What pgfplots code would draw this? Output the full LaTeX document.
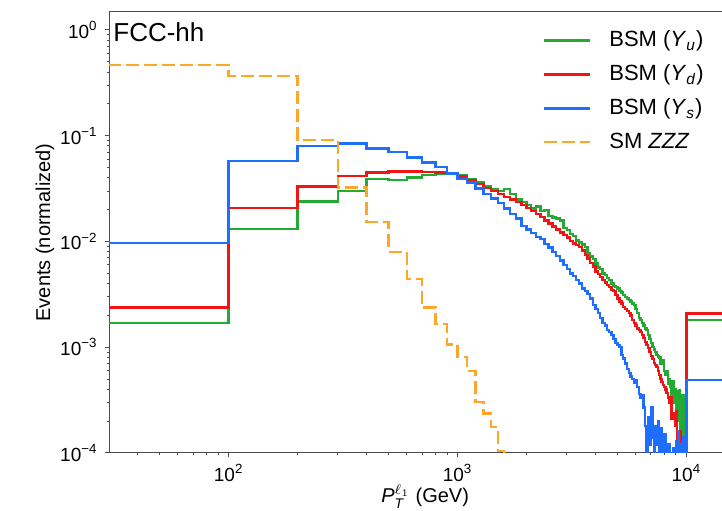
\documentclass[border=0pt]{standalone}
\usepackage{amsmath}
\usepackage{fontspec}
\setmainfont{Liberation Sans}
\usepackage{pgfplots}
\usepackage{pgfplotstable}
\pgfplotsset{compat=1.18}

\definecolor{yuGreen}{RGB}{35,170,50}
\definecolor{ydRed}{RGB}{240,20,20}
\definecolor{ysBlue}{RGB}{30,110,255}
\definecolor{smOrange}{RGB}{255,165,40}

% normalized histograms, 100 GeV bins (left edges), last row = overflow
\pgfplotstableread{
x      yu       yd       ys        sm
10     0.0017   0.00238  0.0097    0.467
100    0.0131   0.0208   0.0577    0.367
200    0.0238   0.033    0.080     0.091
300    0.0302   0.0416   0.0846    0.0325
400    0.0389   0.045    0.076     0.0152
500    0.038    0.046    0.0706    0.0080
600    0.0404   0.046    0.0624    0.00441
700    0.0425   0.0455   0.056     0.00238
800    0.0434   0.045    0.0509    0.00166
900    0.044    0.0434   0.044     0.00106
1000   0.042    0.041    0.039     0.00081
1100   0.039    0.038    0.036     0.000598
1200   0.036    0.035    0.0317    0.000304
1300   0.0335   0.032    0.028     0.000236
1400   0.031    0.030    0.0255    0.000177
1500   0.030    0.028    0.023     0.000105
1600   0.0315   0.0265   0.0205    1e-7
1700   0.028    0.025    0.0182    1e-7
1800   0.025    0.0235   0.0165    1e-7
1900   0.0235   0.022    0.014     1e-7
2000   0.022    0.0208   0.0130    1e-7
2100   0.0205   0.0195   0.0120    1e-7
2200   0.0215   0.0182   0.0110    1e-7
2300   0.0195   0.017    0.0105    1e-7
2400   0.0198   0.0158   0.0095    1e-7
2500   0.0175   0.0148   0.0088    1e-7
2600   0.0168   0.0139   0.0080    1e-7
2700   0.0165   0.013    0.0073    1e-7
2800   0.0158   0.0122   0.0066    1e-7
2900   0.0135   0.0115   0.0060    1e-7
3000   0.0128   0.0109   0.0055    1e-7
3100   0.0118   0.0101   0.0050    1e-7
3200   0.0112   0.0096   0.0047    1e-7
3300   0.0102   0.0093   0.0043    1e-7
3400   0.0098   0.0089   0.0040    1e-7
3500   0.0094   0.0082   0.0036    1e-7
3600   0.0089   0.0075   0.0034    1e-7
3700   0.0078   0.0069   0.0032    1e-7
3800   0.0072   0.0063   0.0029    1e-7
3900   0.0068   0.0058   0.0025    1e-7
4000   0.0062   0.0052   0.0023    1e-7
4100   0.0057   0.0049   0.0021    1e-7
4200   0.0055   0.0046   0.0019    1e-7
4300   0.0050   0.0043   0.0017    1e-7
4400   0.0048   0.0041   0.0016    1e-7
4500   0.0045   0.0039   0.00145   1e-7
4600   0.0043   0.0037   0.0014    1e-7
4700   0.0040   0.0035   0.0013    1e-7
4800   0.0038   0.0034   0.0012    1e-7
4900   0.0037   0.0031   0.0011    1e-7
5000   0.0036   0.0029   0.00105   1e-7
5100   0.0034   0.0027   0.0010    1e-7
5200   0.0033   0.0026   0.00085   1e-7
5300   0.0031   0.0024   0.00078   1e-7
5400   0.0030   0.0023   0.00070   1e-7
5500   0.0029   0.0022   0.00062   1e-7
5600   0.0028   0.0021   0.00057   1e-7
5700   0.0027   0.0020   0.00053   1e-7
5800   0.0026   0.0018   0.00050   1e-7
5900   0.0025   0.0017   0.00046   1e-7
6000   0.0023   0.0016   0.00049   1e-7
6100   0.0021   0.0015   0.00042   1e-7
6200   0.0019   0.00145  0.00036   1e-7
6300   0.0018   0.0014   0.00033   1e-7
6400   0.0017   0.0013   0.00035   1e-7
6500   0.0016   0.00122  0.00027   1e-7
6600   0.0015   0.00112  0.00018   1e-7
6700   0.00145  0.00105  1e-7      1e-7
6800   0.0013   0.00098  0.00022   1e-7
6900   0.0012   0.0009   0.00012   1e-7
7000   0.0011   0.00083  0.00027   1e-7
7100   0.0010   0.00077  0.00014   1e-7
7200   0.00095  0.00071  0.00008   1e-7
7300   0.0009   0.00068  0.00018   1e-7
7400   0.00085  0.00065  0.00012   1e-7
7500   0.00082  0.0006   0.0002    1e-7
7600   0.0008   0.00055  0.00009   1e-7
7700   0.0007   0.0005   0.00017   1e-7
7800   0.00075  0.00047  0.00011   1e-7
7900   0.00075  0.00044  1e-7      1e-7
8000   0.0006   0.00042  0.00015   1e-7
8100   0.00055  0.0004   0.00009   1e-7
8200   0.0006   0.00037  0.00012   1e-7
8300   0.00045  0.00033  1e-7      1e-7
8400   0.0005   0.0003   0.00012   1e-7
8500   0.00042  0.00034  0.00008   1e-7
8600   0.00035  0.00021  0.0001    1e-7
8700   0.00048  0.00024  1e-7      1e-7
8800   0.0003   0.00022  0.00011   1e-7
8900   0.0004   0.00018  1e-7      1e-7
9000   0.00025  0.00025  0.00013   1e-7
9100   0.00038  0.00012  1e-7      1e-7
9200   0.0002   0.00015  0.00016   1e-7
9300   0.00039  0.00014  1e-7      1e-7
9400   1e-7     0.00016  1e-7      1e-7
9500   0.00035  0.00011  0.00012   1e-7
9600   1e-7     1e-7     1e-7      1e-7
9700   0.0003   0.00013  0.00014   1e-7
9800   1e-7     1e-7     1e-7      1e-7
9900   0.00035  0.0001   0.0001    1e-7
10000  0.0018   0.00209  0.000489  1e-7
20000  0.0018   0.00209  0.000489  1e-7
}\hist

\begin{document}
\begin{tikzpicture}
\begin{axis}[
    scale only axis,
    width=307.5pt, height=220.5pt,
    xmode=log, ymode=log,
    xmin=30, xmax=14600,
    ymin=1e-4, ymax=1.48,
    xtick={100,1000,10000},
    xticklabels={10\textsuperscript{2},10\textsuperscript{3},10\textsuperscript{4}},
    ytick={1e-4,1e-3,1e-2,1e-1,1},
    yticklabels={10\textsuperscript{−4},10\textsuperscript{−3},10\textsuperscript{−2},10\textsuperscript{−1},10\textsuperscript{0}},
    minor xtick={40,50,60,70,80,90,200,300,400,500,600,700,800,900,2000,3000,4000,5000,6000,7000,8000,9000},
    minor ytick={2e-4,3e-4,4e-4,5e-4,6e-4,7e-4,8e-4,9e-4,2e-3,3e-3,4e-3,5e-3,6e-3,7e-3,8e-3,9e-3,0.02,0.03,0.04,0.05,0.06,0.07,0.08,0.09,0.2,0.3,0.4,0.5,0.6,0.7,0.8,0.9},
    tick align=outside,
    xtick pos=bottom, ytick pos=left,
    major tick length=2.2pt, minor tick length=1.2pt,
    every tick/.append style={black!70, line width=0.5pt},
    axis line style={black!70, line width=0.5pt},
    tick label style={font=\fontsize{9.5}{10}\selectfont},
    xlabel={$\textit{P}_{\textit{T}}^{\ell_1}$ (GeV)},
    ylabel={Events (normalized)},
    label style={font=\fontsize{12}{13}\selectfont},
    every axis x label/.style={at={(rel axis cs:0.514,0)}, anchor=base, yshift=-25pt},
    every axis y label/.style={at={(rel axis cs:0,0.5)}, xshift=-32pt, rotate=90, anchor=center},
    legend style={at={(0.705,0.967)}, anchor=north west, draw=none, fill=none,
        font=\fontsize{11}{12}\selectfont, row sep=3.5pt, inner sep=0pt},
    legend cell align=left,
    legend image code/.code={\draw[#1] (0pt,0pt) -- (23pt,0pt); \path (30pt,0pt);},
]
\addplot[const plot mark left, draw=yuGreen, line width=1.2pt] table[x=x, y=yu] {\hist};
\addlegendentry{BSM (\textit{Y}\textsubscript{\textit{u}})}
\addplot[const plot mark left, draw=ydRed, line width=1.2pt] table[x=x, y=yd] {\hist};
\addlegendentry{BSM (\textit{Y}\textsubscript{\textit{d}})}
\addplot[const plot mark left, draw=ysBlue, line width=1.2pt] table[x=x, y=ys] {\hist};
\addlegendentry{BSM (\textit{Y}\textsubscript{\textit{s}})}
\addplot[const plot mark left, draw=smOrange, line width=1.2pt, dash pattern=on 6.5pt off 2.5pt] table[x=x, y=sm] {\hist};
\addlegendentry{SM \textit{ZZZ}}
\node[anchor=base west, xshift=2pt, yshift=-15pt, inner sep=0pt, font=\fontsize{13}{14}\selectfont]
    at (rel axis cs:0,1) {FCC-hh};
\end{axis}
\pgfresetboundingbox
\path[use as bounding box] ([xshift=-54.5pt,yshift=-29pt]current axis.south west)
    rectangle ([xshift=-1pt,yshift=6pt]current axis.north east);
\end{tikzpicture}
\end{document}
